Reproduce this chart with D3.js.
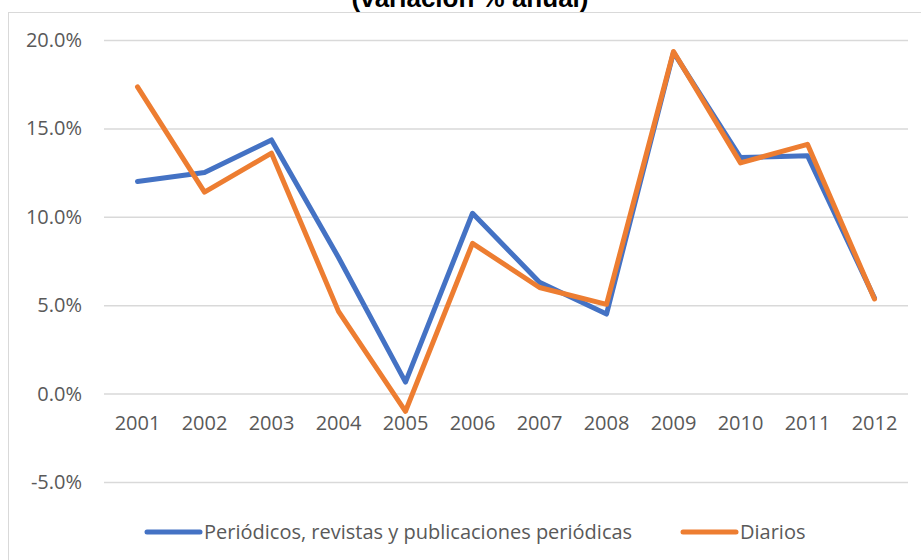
<!DOCTYPE html>
<html>
<head>
<meta charset="utf-8">
<script src="https://cdn.jsdelivr.net/npm/d3@7"></script>
<style>
  body { margin: 0; background: #fff; }
  svg { display: block; font-family: "Open Sans", sans-serif; }
</style>
</head>
<body>
<div id="chart"></div>
<script>
var width = 921,
    height = 560;

var years = ["2001", "2002", "2003", "2004", "2005", "2006", "2007", "2008", "2009", "2010", "2011", "2012"];
var periodicos = [12.0, 12.5, 14.35, 7.7, 0.65, 10.2, 6.3, 4.5, 19.3, 13.35, 13.45, 5.4];
var diarios = [17.35, 11.4, 13.6, 4.65, -1.0, 8.5, 6.0, 5.05, 19.35, 13.05, 14.1, 5.35];
var yTicks = [-5, 0, 5, 10, 15, 20];
var seriesNames = ["Periódicos, revistas y publicaciones periódicas", "Diarios"];
var colors = ["#4472C4", "#ED7D31"];

var series = [periodicos, diarios];

var margin = {left: 104, right: 13, top: 40, bottom: 78};
var fontSize = 20;

var x = d3.scaleBand()
    .domain(years)
    .range([margin.left, width - margin.right]);

var y = d3.scaleLinear()
    .domain([-5, 20])
    .range([482, 40]);

var svg = d3.select("#chart").append("svg")
    .attr("width", width)
    .attr("height", height);

// chart area border
svg.append("rect")
    .attr("x", 8.5)
    .attr("y", 12.5)
    .attr("width", width + 10)
    .attr("height", height)
    .attr("fill", "#fff")
    .attr("stroke", "#d9d9d9")
    .attr("stroke-width", 1);

// title (cut off at the top, as in the original)
svg.append("text")
    .attr("x", 470)
    .attr("y", 7)
    .attr("text-anchor", "middle")
    .attr("font-family", "Liberation Sans, Arial, sans-serif")
    .attr("font-weight", "bold")
    .attr("font-size", 26)
    .attr("fill", "#000")
    .text("(variación % anual)");

// gridlines + y labels
var yAxis = d3.axisLeft(y)
    .tickValues(yTicks)
    .tickSize(-(width - margin.right - margin.left))
    .tickPadding(22)
    .tickFormat(function(d) { return d3.format(".1f")(d).replace("−", "-") + "%"; });

var gy = svg.append("g")
    .attr("transform", "translate(" + margin.left + ",0)")
    .call(yAxis);
gy.select(".domain").remove();
gy.selectAll(".tick line").attr("stroke", "#d9d9d9").attr("stroke-width", 1.5);
gy.selectAll(".tick text")
    .attr("fill", "#595959")
    .attr("font-size", fontSize)
    .attr("font-family", "Open Sans, sans-serif");

// category labels below the zero line
var xAxis = d3.axisBottom(x)
    .tickSize(0)
    .tickPadding(22);

var gx = svg.append("g")
    .attr("transform", "translate(0," + y(0) + ")")
    .call(xAxis);
gx.select(".domain").remove();
gx.selectAll(".tick text")
    .attr("fill", "#595959")
    .attr("font-size", fontSize)
    .attr("font-family", "Open Sans, sans-serif");

var line = d3.line()
    .x(function(d, i) { return x(years[i]) + x.bandwidth() / 2; })
    .y(function(d) { return y(d); });

svg.append("g").selectAll("path")
    .data(series)
    .enter().append("path")
      .attr("d", line)
      .attr("fill", "none")
      .attr("stroke", function(d, i) { return colors[i]; })
      .attr("stroke-width", 5)
      .attr("stroke-linejoin", "round")
      .attr("stroke-linecap", "round");

// legend
var legendX = [147, 683];
var legend = svg.append("g").selectAll("g")
    .data(seriesNames)
    .enter().append("g")
      .attr("transform", function(d, i) { return "translate(" + legendX[i] + ",532)"; });

legend.append("line")
    .attr("x1", 0)
    .attr("x2", 53)
    .attr("stroke", function(d, i) { return colors[i]; })
    .attr("stroke-width", 5)
    .attr("stroke-linecap", "round");

legend.append("text")
    .attr("x", 57)
    .attr("dy", "0.35em")
    .attr("fill", "#595959")
    .attr("font-size", fontSize)
    .attr("font-family", "Open Sans, sans-serif")
    .text(function(d) { return d; });
</script>
</body>
</html>
